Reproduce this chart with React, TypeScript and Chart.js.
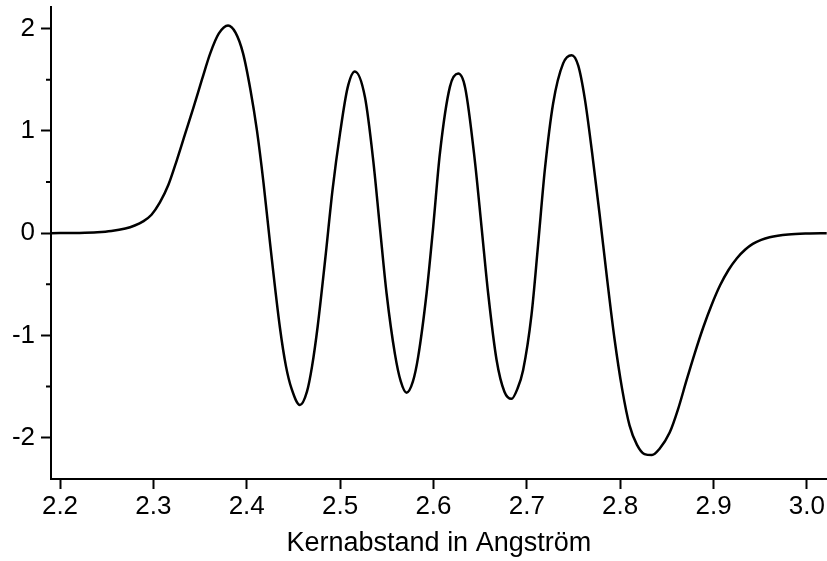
import React, { useEffect, useRef } from "react";
import { Chart, registerables } from "chart.js";

Chart.register(...registerables);

const xValues = [2.19, 2.22, 2.24, 2.255, 2.27, 2.28, 2.289, 2.298, 2.307, 2.316, 2.325, 2.334, 2.343, 2.352, 2.361, 2.37, 2.38, 2.388, 2.396, 2.404, 2.411, 2.418, 2.425, 2.4355, 2.442, 2.448, 2.457, 2.4645, 2.47, 2.476, 2.484, 2.492, 2.5, 2.508, 2.5158, 2.5266, 2.5355, 2.5426, 2.5498, 2.5587, 2.565, 2.5712, 2.578, 2.5836, 2.5926, 2.5997, 2.6069, 2.6176, 2.6265, 2.634, 2.6443, 2.6515, 2.6586, 2.6676, 2.676, 2.6836, 2.69, 2.696, 2.705, 2.712, 2.7193, 2.7282, 2.7389, 2.748, 2.755, 2.762, 2.77, 2.778, 2.786, 2.794, 2.802, 2.81, 2.818, 2.826, 2.834, 2.842, 2.853, 2.862, 2.871, 2.88, 2.889, 2.898, 2.907, 2.916, 2.925, 2.934, 2.942, 2.951, 2.96, 2.98, 3.0, 3.022];

const psiValues = [0, 0.002, 0.008, 0.02, 0.045, 0.075, 0.115, 0.18, 0.3, 0.47, 0.71, 0.97, 1.23, 1.5, 1.76, 1.95, 2.03, 1.96, 1.76, 1.4, 1.0, 0.49, -0.1, -0.92, -1.3, -1.52, -1.68, -1.55, -1.3, -0.91, -0.26, 0.43, 0.98, 1.42, 1.58, 1.33, 0.71, 0.06, -0.59, -1.18, -1.45, -1.56, -1.45, -1.21, -0.59, 0.06, 0.78, 1.43, 1.56, 1.42, 0.71, 0.06, -0.59, -1.24, -1.55, -1.62, -1.52, -1.34, -0.8, -0.12, 0.62, 1.27, 1.66, 1.74, 1.64, 1.32, 0.78, 0.18, -0.45, -1.04, -1.52, -1.88, -2.07, -2.16, -2.17, -2.11, -1.95, -1.72, -1.44, -1.17, -0.92, -0.7, -0.51, -0.36, -0.245, -0.16, -0.105, -0.065, -0.04, -0.013, -0.003, 0];

const xTicks = [2.2, 2.3, 2.4, 2.5, 2.6, 2.7, 2.8, 2.9, 3.0];
const yTicks = [-2, -1, 0, 1, 2];
const yMinorTicks = [-1.5, -0.5, 0.5, 1.5];
const xAxisTitle = "Kernabstand in Angström";

const FONT = "'Liberation Sans', Arial, Helvetica, sans-serif";

export default function App() {
  const canvasRef = useRef<HTMLCanvasElement | null>(null);

  useEffect(() => {
    if (!canvasRef.current) return;
    const minorTickPlugin = {
      id: "minorTicks",
      afterDraw(chart: any) {
        const ys = chart.scales.y;
        const ctx = chart.ctx;
        ctx.save();
        ctx.strokeStyle = "#000";
        ctx.lineWidth = 2;
        ctx.beginPath();
        for (const v of yMinorTicks) {
          const p = ys.getPixelForValue(v);
          ctx.moveTo(ys.right - 5, p);
          ctx.lineTo(ys.right, p);
        }
        ctx.stroke();
        ctx.restore();
      },
    };
    const chart = new Chart(canvasRef.current, {
      type: "line",
      data: {
        datasets: [
          {
            data: xValues.map((x, i) => ({ x, y: psiValues[i] })),
            borderColor: "#000",
            borderWidth: 2.5,
            pointRadius: 0,
            cubicInterpolationMode: "monotone",
            fill: false,
          },
        ],
      },
      plugins: [minorTickPlugin],
      options: {
        animation: false,
        responsive: false,
        maintainAspectRatio: false,
        devicePixelRatio: 1,
        layout: { padding: { top: 7, right: 0, left: 0, bottom: 0 } },
        plugins: { legend: { display: false }, tooltip: { enabled: false } },
        scales: {
          x: {
            type: "linear",
            min: 2.19036,
            max: 3.02117,
            afterFit: (s: any) => {
              s.height = 82;
            },
            afterBuildTicks: (s: any) => {
              s.ticks = xTicks.map((v) => ({ value: v }));
            },
            ticks: {
              color: "#000",
              font: { family: FONT, size: 26 },
              padding: 2,
              maxRotation: 0,
              autoSkip: false,
              callback: (v: any) => Number(v).toFixed(1),
            },
            grid: {
              drawOnChartArea: false,
              drawTicks: true,
              tickLength: 10,
              tickWidth: 2,
              tickColor: "#000",
            },
            border: { display: true, color: "#000", width: 2 },
            title: {
              display: true,
              text: xAxisTitle,
              color: "#000",
              font: { family: FONT, size: 27 },
              padding: { top: 0, bottom: 1 },
            },
          },
          y: {
            type: "linear",
            min: -2.4036,
            max: 2.208,
            afterFit: (s: any) => {
              s.width = 51;
            },
            afterBuildTicks: (s: any) => {
              s.ticks = yTicks.map((v) => ({ value: v }));
            },
            ticks: {
              color: "#000",
              font: { family: FONT, size: 26, lineHeight: 0.1 },
              padding: 6,
              autoSkip: false,
              callback: (v: any) => String(v),
            },
            grid: {
              drawOnChartArea: false,
              drawTicks: true,
              tickLength: 10,
              tickWidth: 2,
              tickColor: "#000",
            },
            border: { display: true, color: "#000", width: 2 },
          },
        },
      },
    } as any);
    return () => chart.destroy();
  }, []);

  return (
    <div style={{ position: "fixed", left: 0, top: 0, width: 827, height: 561, background: "#fff" }}>
      <canvas ref={canvasRef} width={827} height={561} style={{ width: 827, height: 561, display: "block" }} />
    </div>
  );
}
